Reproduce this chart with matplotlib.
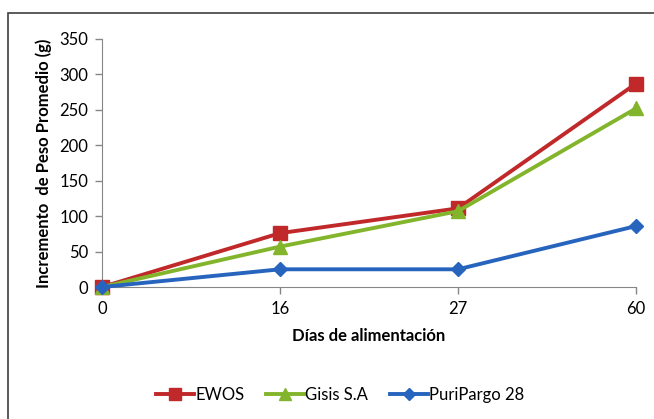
import matplotlib.pyplot as plt
from matplotlib.patches import Rectangle

# data
dias = ['0', '16', '27', '60']
ewos = [0, 76, 111, 287]
gisis = [0, 57, 107, 252]
puripargo = [0, 25, 25, 86]

plt.rcParams['font.family'] = ['Lato', 'DejaVu Sans']

fig = plt.figure(figsize=(6.54, 4.19), dpi=100)
ax = fig.add_axes([0.156, 0.315, 0.8165, 0.592])

x = range(len(dias))
ax.plot(x, ewos, color='#C0282A', lw=2.8, marker='s', ms=10, label='EWOS', clip_on=False, zorder=3)
ax.plot(x, gisis, color='#83B52C', lw=2.8, marker='^', ms=10, label='Gisis S.A', clip_on=False, zorder=4)
ax.plot(x, puripargo, color='#2764BE', lw=2.8, marker='D', ms=7.5, label='PuriPargo 28', clip_on=False, zorder=5)

ax.set_xlim(0, 3)
ax.set_ylim(0, 350)
ax.set_xticks(list(x))
ax.set_xticklabels(dias)
ax.set_yticks(range(0, 351, 50))
ax.tick_params(labelsize=12, color='#868686', length=5, width=1, pad=5)
for s in ['top', 'right']:
    ax.spines[s].set_visible(False)
for s in ['left', 'bottom']:
    ax.spines[s].set_color('#868686')
ax.set_xlabel('Días de alimentación', fontsize=12, fontweight='bold', labelpad=8)
ax.set_ylabel('Incremento  de Peso Promedio (g)', fontsize=12, fontweight='bold', labelpad=5)

fig.legend(loc='center', bbox_to_anchor=(0.52, 0.057), ncol=3, frameon=False,
           fontsize=12, handlelength=2.3, columnspacing=1.3, handletextpad=0.05,
           markerscale=0.8)

# outer frame of the picture
fig.patches.append(Rectangle((8 / 654, -0.1), 1.1, 1.1 - 13 / 419,
                             transform=fig.transFigure, fill=False,
                             edgecolor='#404040', lw=1.2))

fig.savefig('out.png', dpi=100)
